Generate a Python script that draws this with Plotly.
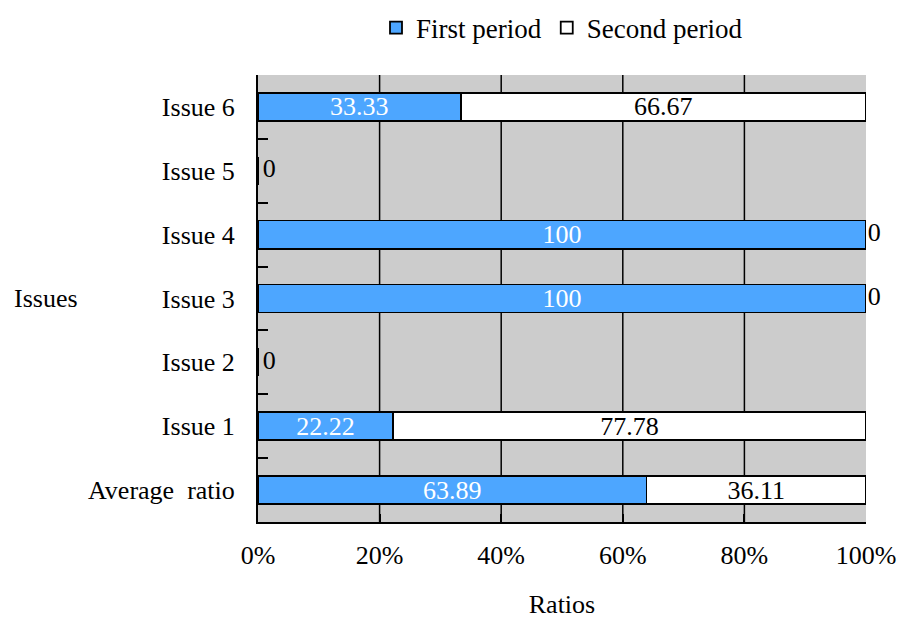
import plotly.graph_objects as go

categories = ["Average  ratio", "Issue 1", "Issue 2", "Issue 3", "Issue 4", "Issue 5", "Issue 6"]
first_period = [63.89, 22.22, 0, 100, 100, 0, 33.33]
second_period = [36.11, 77.78, 0, 0, 0, 0, 66.67]
x_ticks = [0, 20, 40, 60, 80, 100]

FONT = "Liberation Serif, Times New Roman, serif"
BLUE = "#4DA6FF"
FS = 26

def fmt(v):
    return "" if v == 0 else ("%g" % v)

fig = go.Figure()
fig.add_trace(go.Bar(
    y=categories, x=first_period, orientation="h", name="First period",
    marker=dict(color=BLUE, line=dict(color="black", width=1.8)),
    text=[fmt(v) for v in first_period], textposition="inside",
    insidetextanchor="middle", textangle=0, constraintext="none",
    textfont=dict(color="white", size=FS, family=FONT),
))
fig.add_trace(go.Bar(
    y=categories, x=second_period, orientation="h", name="Second period",
    marker=dict(color="white", line=dict(color="black", width=1.8)),
    text=[fmt(v) for v in second_period], textposition="inside",
    insidetextanchor="middle", textangle=0, constraintext="none",
    textfont=dict(color="black", size=FS, family=FONT),
))

# zero-value labels
zx, zy, zs = [], [], []
for c, a, b in zip(categories, first_period, second_period):
    if a == 0:
        zx.append(0); zy.append(c); zs.append(6)
    elif b == 0:
        zx.append(a + b); zy.append(c); zs.append(1)
fig.add_trace(go.Scatter(
    x=zx, y=zy, mode="markers+text", text=["0"] * len(zx), textposition="middle right",
    marker=dict(size=zs, opacity=0),
    textfont=dict(size=FS, family=FONT, color="black"), showlegend=False,
    cliponaxis=False, hoverinfo="skip",
))

for t in x_ticks[1:-1]:
    fig.add_shape(type="line", xref="x", yref="paper", x0=t, x1=t, y0=0, y1=1,
                  line=dict(color="black", width=1.5), layer="below")

fig.add_annotation(text="Issues", xref="paper", yref="paper", x=-0.405, y=0.5,
                   xanchor="left", yanchor="middle", showarrow=False,
                   font=dict(size=FS, family=FONT, color="black"))

fig.update_layout(
    width=904, height=619,
    margin=dict(l=258, r=38, t=75, b=97, autoexpand=False),
    barmode="stack", bargap=0.56,
    plot_bgcolor="#CCCCCC", paper_bgcolor="white",
    font=dict(family=FONT, size=FS, color="black"),
    legend=dict(orientation="h", x=0.5, xanchor="center", yref="container",
                y=1 - 28 / 619, yanchor="middle",
                font=dict(size=27, family=FONT), bgcolor="rgba(0,0,0,0)",
                traceorder="normal", itemwidth=30),
    xaxis=dict(range=[0, 100], tickvals=x_ticks, ticktext=[f"{t}%" for t in x_ticks],
               showgrid=False, zeroline=False, showline=True, linecolor="black", linewidth=2,
               ticks="inside", ticklen=8, tickwidth=2, tickcolor="black",
               ticklabelstandoff=9, tickfont=dict(size=FS, family=FONT), automargin=False,
               title=dict(text="Ratios", font=dict(size=FS, family=FONT), standoff=36)),
    yaxis=dict(type="category", categoryorder="array", categoryarray=categories,
               showgrid=False, zeroline=False, showline=True, linecolor="black", linewidth=2,
               ticks="inside", tickson="boundaries", ticklen=10, tickwidth=2, tickcolor="black",
               ticklabelstandoff=16, tickfont=dict(size=FS, family=FONT), automargin=False),
)

fig.write_html("out.html", config={"displayModeBar": False},
               post_script="document.body.style.margin='0';")
